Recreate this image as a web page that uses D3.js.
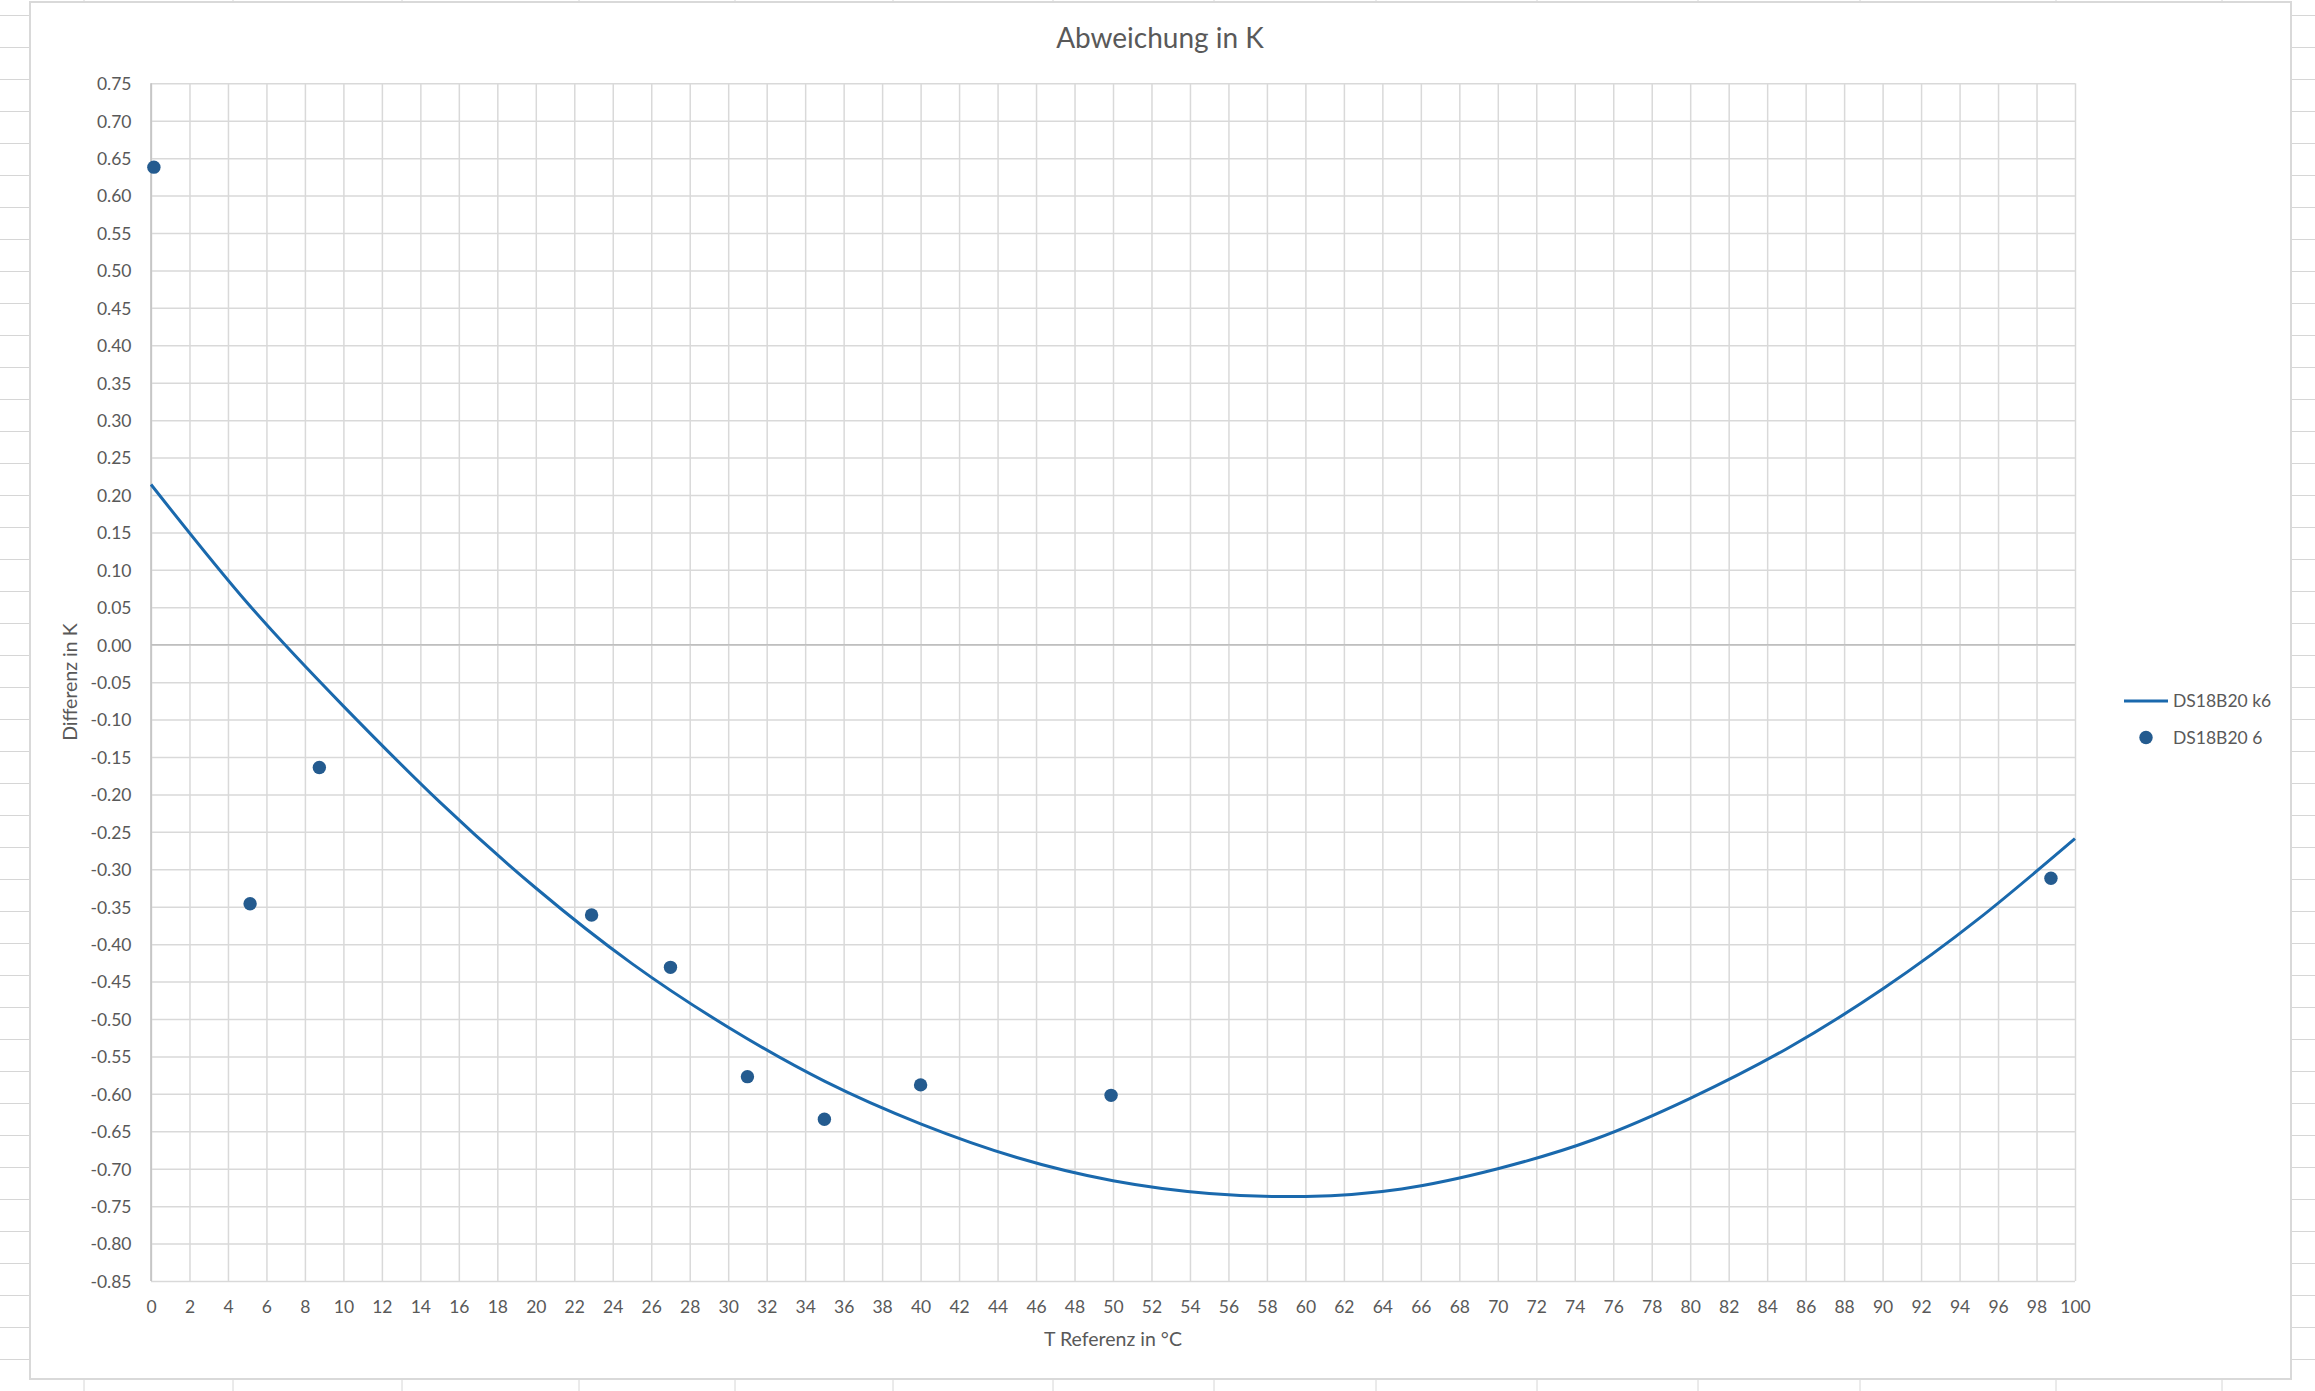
<!DOCTYPE html>
<html lang="de">
<head>
	<meta charset="UTF-8">
	<title>Abweichung in K</title>
	<script src="https://cdn.jsdelivr.net/npm/d3@7"></script>
	<style>
		body { margin: 0; background: #fff; }
		text { font-family: Lato, "Open Sans", sans-serif; fill: #595959; }
		.tick text { font-size: 17.5px; }
		.grid line { stroke: #d9d9d9; stroke-width: 1.5; }
		.grid .domain { display: none; }
	</style>
</head>
<body>
<script type="text/javascript">

	// measured points, series "DS18B20 6"
	var tempRef = [0.15, 5.15, 8.75, 22.9, 27.0, 31.0, 35.0, 40.0, 49.9, 98.75];
	var diff = [0.638, -0.346, -0.164, -0.361, -0.431, -0.577, -0.634, -0.588, -0.602, -0.312];

	// trend curve "DS18B20 k6"
	var trendX = [0, 5, 10, 15, 20, 25, 30, 35, 40, 45, 50, 55, 60, 65, 70, 75, 80, 85, 90, 95, 100];
	var trendY = [0.214, 0.056, -0.082, -0.210, -0.325, -0.426, -0.511, -0.583, -0.640, -0.685, -0.716,
		-0.733, -0.737, -0.727, -0.700, -0.661, -0.606, -0.540, -0.460, -0.366, -0.259];

	var xTicks = d3.range(0, 101, 2);
	var yTicks = d3.range(-17, 16).map(function (k) { return k * 0.05; });

	var seriesNames = ['DS18B20 k6', 'DS18B20 6'];

	// spreadsheet cells behind the chart
	var sheetCols = [84, 233, 402, 579, 735, 893, 1053, 1214, 1376, 1537, 1698, 1860, 2056, 2222];

	var W = 2315, H = 1391;
	var plot = {left: 151, right: 2075, top: 83.3, bottom: 1281};

	var svg = d3.select('body').append('svg')
		.attr('width', W)
		.attr('height', H);

	var rows = d3.range(0, 44).map(function (k) { return 15.5 + 32 * k; });
	svg.selectAll('.row').data(rows).enter().append('line')
		.attr('x1', 0).attr('x2', W)
		.attr('y1', function (d) { return d; }).attr('y2', function (d) { return d; })
		.attr('stroke', '#d6d6d6').attr('stroke-width', 1);
	svg.selectAll('.col').data(sheetCols).enter().append('line')
		.attr('y1', 0).attr('y2', H)
		.attr('x1', function (d) { return d; }).attr('x2', function (d) { return d; })
		.attr('stroke', '#d6d6d6').attr('stroke-width', 1);

	svg.append('rect')
		.attr('x', 30).attr('y', 2)
		.attr('width', 2261).attr('height', 1377)
		.attr('fill', '#fff')
		.attr('stroke', '#d9d9d9')
		.attr('stroke-width', 2);

	var x = d3.scaleLinear().domain([0, 100]).range([plot.left, plot.right]);
	var y = d3.scaleLinear().domain([-0.85, 0.75]).range([plot.bottom, plot.top]);

	// gridlines
	svg.append('g')
		.attr('class', 'grid')
		.attr('transform', 'translate(0,' + plot.bottom + ')')
		.call(d3.axisBottom(x).tickValues(xTicks).tickSize(-(plot.bottom - plot.top)).tickFormat(''));
	svg.append('g')
		.attr('class', 'grid')
		.attr('transform', 'translate(' + plot.left + ',0)')
		.call(d3.axisLeft(y).tickValues(yTicks).tickSize(-(plot.right - plot.left)).tickFormat(''));

	// axis lines (vertical at x=0, horizontal at y=0)
	svg.append('line')
		.attr('x1', x(0)).attr('x2', x(100))
		.attr('y1', y(0)).attr('y2', y(0))
		.attr('stroke', '#bfbfbf').attr('stroke-width', 1.5);
	svg.append('line')
		.attr('x1', x(0)).attr('x2', x(0))
		.attr('y1', plot.top).attr('y2', plot.bottom)
		.attr('stroke', '#bfbfbf').attr('stroke-width', 1.5);

	// tick labels
	var xAxis = svg.append('g')
		.attr('transform', 'translate(0,' + plot.bottom + ')')
		.call(d3.axisBottom(x).tickValues(xTicks).tickSize(0).tickFormat(d3.format('d')));
	xAxis.select('.domain').remove();
	xAxis.selectAll('text').attr('y', 32).attr('dy', 0);

	var yAxis = svg.append('g')
		.attr('transform', 'translate(' + plot.left + ',0)')
		.call(d3.axisLeft(y).tickValues(yTicks).tickSize(0).tickPadding(19.5)
			.tickFormat(function (d) { return (Math.round(d * 100) / 100).toFixed(2); }));
	yAxis.select('.domain').remove();
	yAxis.selectAll('text').attr('dy', '0.36em');

	// trend curve
	var trend = trendX.map(function (d, i) { return [d, trendY[i]]; });
	svg.append('path')
		.datum(trend)
		.attr('fill', 'none')
		.attr('stroke', '#1a69ad')
		.attr('stroke-width', 3)
		.attr('d', d3.line()
			.x(function (d) { return x(d[0]); })
			.y(function (d) { return y(d[1]); })
			.curve(d3.curveNatural));

	// points
	svg.selectAll('.pt')
		.data(tempRef)
		.enter().append('circle')
		.attr('class', 'pt')
		.attr('cx', function (d) { return x(d); })
		.attr('cy', function (d, i) { return y(diff[i]); })
		.attr('r', 6.7)
		.attr('fill', '#245b8f');

	// titles
	svg.append('text')
		.attr('x', 1160).attr('y', 48)
		.attr('text-anchor', 'middle')
		.style('font-size', '28px')
		.text('Abweichung in K');
	svg.append('text')
		.attr('x', (plot.left + plot.right) / 2).attr('y', 1346)
		.attr('text-anchor', 'middle')
		.style('font-size', '19.5px')
		.text('T Referenz in °C');
	svg.append('text')
		.attr('transform', 'translate(77,' + (plot.top + plot.bottom) / 2 + ') rotate(-90)')
		.attr('text-anchor', 'middle')
		.style('font-size', '19.5px')
		.text('Differenz in K');

	// legend
	var legend = svg.append('g');
	legend.append('line')
		.attr('x1', 2124).attr('x2', 2168)
		.attr('y1', 701).attr('y2', 701)
		.attr('stroke', '#1a69ad').attr('stroke-width', 3);
	legend.append('circle')
		.attr('cx', 2146).attr('cy', 737.5).attr('r', 6.7)
		.attr('fill', '#245b8f');
	legend.selectAll('.lt')
		.data(seriesNames)
		.enter().append('text')
		.attr('x', 2173)
		.attr('y', function (d, i) { return 701 + i * 36.5; })
		.attr('dy', '0.36em')
		.style('font-size', '17.5px')
		.text(function (d) { return d; });

</script>
</body>
</html>
